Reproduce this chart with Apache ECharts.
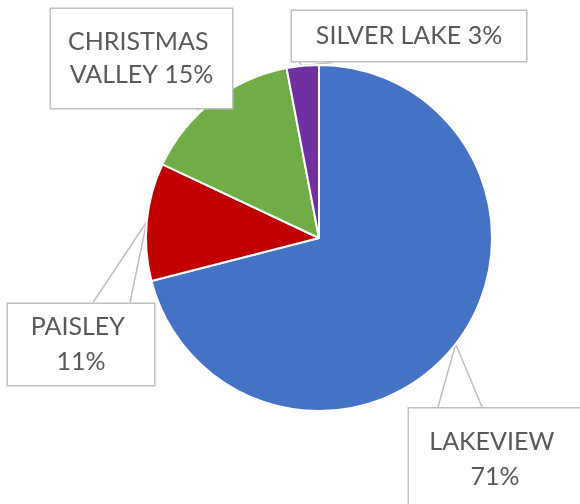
<!DOCTYPE html>
<html>
<head>
<meta charset="utf-8">
<script src="https://cdn.jsdelivr.net/npm/echarts@6/dist/echarts.min.js"></script>
<style>
  html, body { margin: 0; padding: 0; background: #fff; }
  #main { width: 580px; height: 504px; }
</style>
</head>
<body>
<div id="main"></div>
<script>
// 数据
var areas = ['LAKEVIEW', 'PAISLEY', 'CHRISTMAS VALLEY', 'SILVER LAKE'];
var shares = [71, 11, 15, 3];
var colors = ['#4472C4', '#C00000', '#70AD47', '#7030A0'];

// 标注框位置 (callout)
var boxes = [
  { cx: 495, cy: 459.5, w: 172, lh: 35, pad: 16, base: [-57, -13], side: 'top' },
  { cx: 81, cy: 344.5, w: 146, lh: 35, pad: 5.5, base: [12, 49], side: 'top' },
  { cx: 141.5, cy: 58.5, w: 181, lh: 33, pad: 16.5, base: [55, 78], side: 'bottom' },
  { cx: 409, cy: 36, w: 234, lh: 33, pad: 8.5, base: [-110, -77], side: 'bottom' }
];

var myChart = echarts.init(document.getElementById('main'));

var data = [];
for (var i = 0; i < areas.length; i++) {
  data.push({
    name: areas[i],
    value: shares[i],
    itemStyle: { color: colors[i] },
    label: {
      width: boxes[i].w,
      lineHeight: boxes[i].lh,
      padding: [boxes[i].pad, 0]
    }
  });
}

var option = {
  animation: false,
  series: [{
    type: 'pie',
    center: [319, 238],
    radius: 173,
    startAngle: 90,
    clockwise: true,
    avoidLabelOverlap: false,
    data: data,
    itemStyle: { borderColor: '#fff', borderWidth: 2 },
    label: {
      show: true,
      position: 'outside',
      formatter: function (p) { return p.name + ' ' + Math.round(p.percent) + '%'; },
      fontFamily: 'Lato',
      fontSize: 25,
      color: '#595959',
      overflow: 'break',
      align: 'center',
      backgroundColor: '#fff',
      borderColor: '#BFBFBF',
      borderWidth: 1.5
    },
    labelLine: {
      show: true,
      smooth: false,
      lineStyle: { color: '#BFBFBF', width: 1.5 }
    },
    labelLayout: function (params) {
      var b = boxes[params.dataIndex];
      var tip = params.labelLinePoints ? params.labelLinePoints[0] : [b.cx, b.cy];
      var h = params.labelRect.height;
      var edgeY = b.side === 'top' ? b.cy - h / 2 : b.cy + h / 2;
      return {
        x: b.cx,
        y: b.cy,
        align: 'center',
        verticalAlign: 'middle',
        labelLinePoints: [[b.cx + b.base[0], edgeY], tip, [b.cx + b.base[1], edgeY]]
      };
    }
  }]
};

myChart.setOption(option);
</script>
</body>
</html>
